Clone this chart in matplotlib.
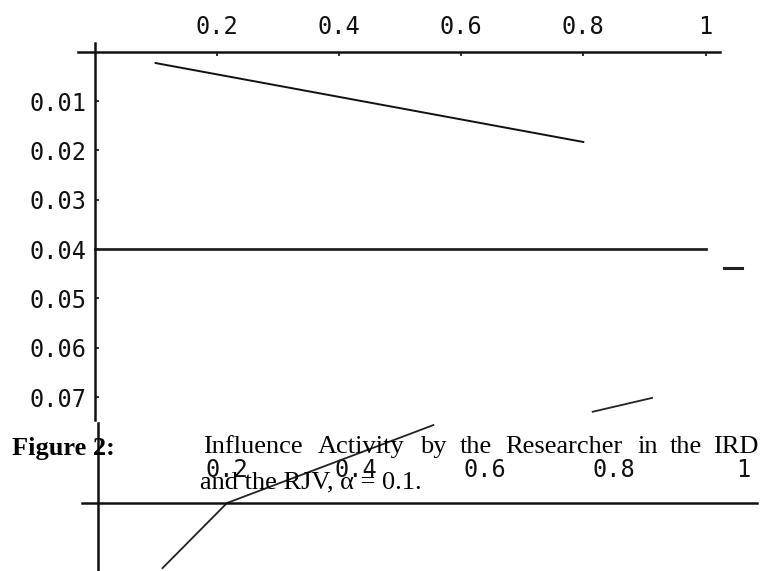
import matplotlib
matplotlib.use("Agg")
import matplotlib.pyplot as plt

# ---------------- data ----------------
top_xticks = [0.2, 0.4, 0.6, 0.8, 1.0]
top_xticklabels = ["0.2", "0.4", "0.6", "0.8", "1"]
top_yticks = [0.01, 0.02, 0.03, 0.04, 0.05, 0.06, 0.07]
top_yticklabels = ["0.01", "0.02", "0.03", "0.04", "0.05", "0.06", "0.07"]

slope_x = [0.1, 0.8]
slope_y = [0.0023, 0.0183]
flat_x = [0.0, 1.0]
flat_y = [0.04, 0.04]
stub_x = [1.03, 1.06]
stub_y = [0.0439, 0.0439]

bot_xticks = [0.2, 0.4, 0.6, 0.8, 1.0]
bot_xticklabels = ["0.2", "0.4", "0.6", "0.8", "1"]
bot_line_x = [0.1, 0.2, 0.52]
bot_line_y = [0.0132, 0.0, -0.0158]
bot_seg_x = [0.767, 0.859]
bot_seg_y = [-0.0185, -0.0213]

caption_label = "Figure 2:"
caption_words = ["Influence", "Activity", "by", "the", "Researcher", "in", "the", "IRD"]
caption_line2 = "and the RJV, \u03b1 = 0.1."

# ---------------- layout ----------------
W, H = 760, 571
fig = plt.figure(figsize=(W / 100, H / 100), dpi=100)
fig.patch.set_facecolor("white")

INK = "#111111"
TICKFONT = dict(family="DejaVu Sans Mono", size=17)


def make_axes(x0_px, xs_px, y0_px, ys_px):
    ax = fig.add_axes([0, 0, 1, 1], facecolor="none")
    ax.set_xlim(-x0_px / xs_px, (W - x0_px) / xs_px)
    ax.set_ylim((H - y0_px) / ys_px, -y0_px / ys_px)
    for s in ("right", "bottom"):
        ax.spines[s].set_visible(False)
    for s in ("top", "left"):
        ax.spines[s].set_linewidth(1.8)
        ax.spines[s].set_color(INK)
        ax.spines[s].set_position(("data", 0))
    ax.xaxis.set_ticks_position("top")
    ax.yaxis.set_ticks_position("left")
    return ax


# top chart
ax1 = make_axes(94.5, 611.0, 51.7, 4933.0)
ax1.spines["top"].set_bounds(-0.027, 1.0237)
ax1.spines["left"].set_bounds(-0.0018, 0.0747)
ax1.set_xticks(top_xticks)
ax1.set_xticklabels(top_xticklabels, **TICKFONT)
ax1.set_yticks(top_yticks)
ax1.set_yticklabels(top_yticklabels, **TICKFONT)
ax1.tick_params(axis="x", direction="in", length=3, width=1.2, pad=9, colors=INK)
ax1.tick_params(axis="y", direction="in", length=3, width=1.2, pad=6, colors=INK)

ax1.plot(slope_x, slope_y, color=INK, lw=1.4, clip_on=False)
ax1.plot(flat_x, flat_y, color="#222222", lw=2.0, clip_on=False)
ax1.plot(stub_x, stub_y, color="#222222", lw=2.2, clip_on=False)

# bottom chart (partially visible)
ax2 = make_axes(98.0, 645.0, 503.0, 4933.0)
ax2.spines["top"].set_bounds(-0.0248, 1.0217)
ax2.spines["left"].set_bounds(-0.0162, 0.0138)
ax2.set_xticks(bot_xticks)
ax2.set_xticklabels(bot_xticklabels, **TICKFONT)
ax2.set_yticks([])
ax2.tick_params(axis="x", direction="in", length=0, pad=15, colors=INK)
ax2.plot(bot_line_x, bot_line_y, color="#222222", lw=1.3, clip_on=False)
ax2.plot(bot_seg_x, bot_seg_y, color="#222222", lw=1.3, clip_on=False)

# caption
SERIF = ["Liberation Serif", "DejaVu Serif"]
fig.text(12 / W, 1 - 455 / H, caption_label, family=SERIF, size=19,
         weight="bold", va="baseline", ha="left", color="black")
word_px = [203, 318, 420, 460, 505, 637, 670, 713]
for w, px in zip(caption_words, word_px):
    fig.text(px / W, 1 - 453 / H, w, family=SERIF, size=19,
             va="baseline", ha="left", color="black")
fig.text(200 / W, 1 - 488 / H, caption_line2, family=SERIF, size=19,
         va="baseline", ha="left", color="black")

fig.savefig("out.png", dpi=100, facecolor="white")
